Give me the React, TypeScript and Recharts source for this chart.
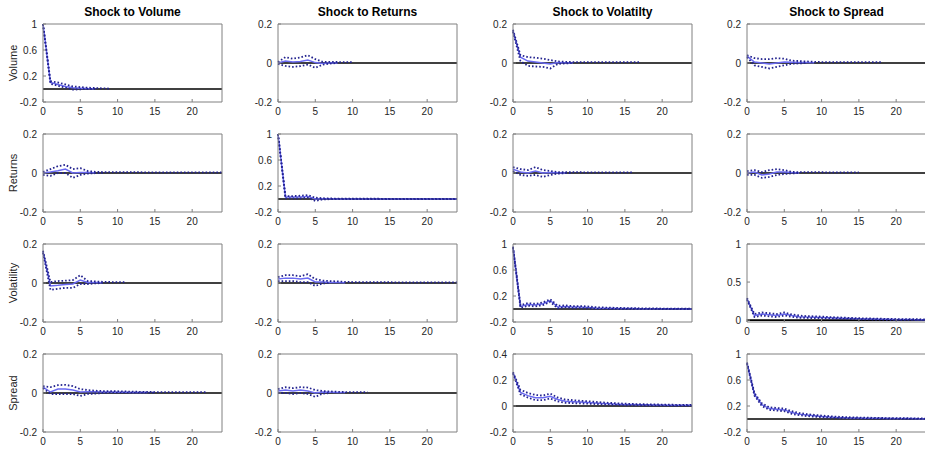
import { LineChart, Line, XAxis, YAxis, ReferenceLine } from "recharts";

const steps = [0, 1, 2, 3, 4, 5, 6, 7, 8, 9, 10, 11, 12, 13, 14, 15, 16, 17, 18, 19, 20, 21, 22, 23, 24];

const shockTitles = ["Shock to Volume", "Shock to Returns", "Shock to Volatilty", "Shock to Spread"];
const responseLabels = ["Volume", "Returns", "Volatility", "Spread"];

const xTicks = [0, 5, 10, 15, 20];
const ticksSmall = [-0.2, 0, 0.2];
const ticksUnit = [-0.2, 0.2, 0.6, 1];
const ticksHalf = [0, 0.5, 1];
const ticksWide = [-0.2, 0, 0.2, 0.4];

// response of Volume
const volVol = [1.0, 0.1, 0.07, 0.04, 0.02, 0.012, 0.006, 0.003];
const volVolHi = [1.0, 0.12, 0.1, 0.07, 0.04, 0.03, 0.02, 0.015, 0.01, 0.006];
const volVolLo = [1.0, 0.08, 0.05, 0.02, -0.01, -0.005, 0.0, 0.0];
const volRet = [0, 0.01, 0.005, 0.008, 0.015, 0.002, -0.002, 0.001, 0.0];
const volRetHi = [0.005, 0.03, 0.022, 0.028, 0.04, 0.02, 0.006, 0.006, 0.005, 0.005, 0.005];
const volRetLo = [-0.005, -0.015, -0.02, -0.016, -0.008, -0.025, -0.008, -0.003, 0.0];
const volVlt = [0.165, 0.03, 0.01, 0.005, 0.0, -0.005, 0.002, 0.001, 0.0];
const volVltHi = [0.17, 0.04, 0.03, 0.027, 0.022, 0.015, 0.008, 0.006, 0.005, 0.005, 0.004, 0.004, 0.004, 0.004, 0.004, 0.004, 0.004, 0.004];
const volVltLo = [0.16, 0.01, -0.015, -0.018, -0.02, -0.028, -0.005, -0.002, 0.0];
const volSpr = [0.035, 0.005, 0.0, -0.005, 0.0, 0.005, 0.004, 0.003, 0.002, 0.001];
const volSprHi = [0.04, 0.025, 0.02, 0.02, 0.025, 0.022, 0.012, 0.01, 0.008, 0.006, 0.005, 0.005, 0.004, 0.004, 0.004, 0.004, 0.004, 0.004, 0.004];
const volSprLo = [0.03, -0.012, -0.02, -0.028, -0.02, -0.012, -0.004, -0.002, 0.0];

// response of Returns
const retVol = [0.0, 0.005, 0.012, 0.02, 0.0, 0.003, 0.002, 0.001];
const retVolHi = [0.005, 0.02, 0.035, 0.042, 0.02, 0.025, 0.01, 0.006, 0.005, 0.004, 0.004, 0.004, 0.004, 0.004, 0.003, 0.003, 0.003, 0.003, 0.003, 0.003, 0.003, 0.003, 0.003, 0.003, 0.003];
const retVolLo = [-0.01, -0.015, 0.0, 0.0, -0.025, -0.01, -0.003, -0.001, 0.0];
const retRet = [1.0, 0.03, 0.03, 0.03, 0.04, 0.0, 0.005, 0.002, 0.001, 0.001, 0.001, 0.001, 0.001, 0.001, 0.001, 0.001, 0.001, 0.001, 0.001, 0.001, 0.001, 0.001, 0.001, 0.001, 0.001];
const retRetHi = [1.0, 0.045, 0.045, 0.05, 0.06, 0.02, 0.012, 0.008, 0.006, 0.005, 0.004, 0.004, 0.004, 0.004, 0.003, 0.003, 0.003, 0.003, 0.003, 0.003, 0.003, 0.003, 0.003, 0.003, 0.003];
const retRetLo = [1.0, 0.01, 0.01, 0.01, 0.02, -0.03, -0.005, -0.003, -0.002, -0.002, -0.001, -0.001, -0.001, -0.001, -0.001, -0.001, -0.001, -0.001, -0.001, -0.001, -0.001, -0.001, -0.001, -0.001, -0.001];
const retVlt = [0.02, 0.005, 0.0, 0.01, 0.0, 0.002, 0.001, 0.0];
const retVltHi = [0.03, 0.02, 0.015, 0.03, 0.015, 0.01, 0.005, 0.004, 0.004, 0.004, 0.003, 0.003, 0.003, 0.003, 0.003, 0.003, 0.003];
const retVltLo = [0.01, -0.01, -0.015, -0.01, -0.02, -0.01, -0.003, -0.001, 0.0];
const retSpr = [0.0, 0.005, -0.01, -0.005, 0.005, 0.005, 0.002, 0.0];
const retSprHi = [0.01, 0.015, 0.005, 0.015, 0.02, 0.015, 0.006, 0.004, 0.004, 0.004, 0.004, 0.003, 0.003, 0.003, 0.003, 0.003];
const retSprLo = [-0.01, -0.01, -0.025, -0.02, -0.01, -0.005, -0.002, 0.0];

// response of Volatility
const vltVol = [0.16, -0.015, -0.012, -0.008, -0.005, 0.015, 0.003, 0.002, 0.001];
const vltVolHi = [0.165, 0.005, 0.01, 0.012, 0.015, 0.04, 0.01, 0.008, 0.006, 0.005, 0.005, 0.004];
const vltVolLo = [0.155, -0.035, -0.03, -0.025, -0.025, -0.005, -0.005, -0.002, 0.0];
const vltRet = [0.02, 0.025, 0.025, 0.02, 0.025, 0.005, 0.005, 0.003, 0.002, 0.001];
const vltRetHi = [0.03, 0.04, 0.04, 0.035, 0.045, 0.02, 0.012, 0.01, 0.008, 0.006, 0.005, 0.005, 0.004, 0.004, 0.004, 0.004, 0.003, 0.003, 0.003, 0.003, 0.003, 0.003, 0.003, 0.003, 0.003];
const vltRetLo = [0.01, 0.01, 0.01, 0.005, 0.005, -0.015, -0.002, 0.0];
const vltVlt = [0.95, 0.04, 0.07, 0.06, 0.08, 0.13, 0.03, 0.04, 0.03, 0.03, 0.025, 0.015, 0.012, 0.01, 0.008, 0.007, 0.006, 0.005, 0.004, 0.003, 0.003, 0.002, 0.002, 0.001, 0.001];
const vltVltHi = [0.96, 0.06, 0.09, 0.08, 0.1, 0.15, 0.05, 0.055, 0.045, 0.045, 0.04, 0.028, 0.024, 0.02, 0.017, 0.015, 0.013, 0.011, 0.01, 0.008, 0.007, 0.006, 0.005, 0.004, 0.004];
const vltVltLo = [0.94, 0.02, 0.05, 0.04, 0.06, 0.11, 0.01, 0.025, 0.015, 0.015, 0.01, 0.003, 0.001, 0.0, 0.0, 0.0, 0.0, 0.0, 0.0, 0.0, 0.0, 0.0, 0.0, 0.0, 0.0];
const vltSpr = [0.28, 0.06, 0.08, 0.07, 0.06, 0.08, 0.06, 0.045, 0.04, 0.038, 0.035, 0.03, 0.027, 0.024, 0.021, 0.018, 0.016, 0.014, 0.012, 0.01, 0.009, 0.008, 0.007, 0.006, 0.005];
const vltSprHi = [0.29, 0.08, 0.1, 0.09, 0.08, 0.1, 0.075, 0.06, 0.052, 0.05, 0.046, 0.04, 0.036, 0.032, 0.028, 0.025, 0.022, 0.02, 0.018, 0.016, 0.014, 0.013, 0.012, 0.011, 0.01];
const vltSprLo = [0.27, 0.04, 0.06, 0.05, 0.04, 0.06, 0.045, 0.03, 0.028, 0.026, 0.024, 0.02, 0.018, 0.016, 0.014, 0.011, 0.01, 0.008, 0.006, 0.004, 0.004, 0.003, 0.002, 0.001, 0.0];

// response of Spread
const sprVol = [0.03, 0.005, 0.02, 0.02, 0.015, 0.005, 0.006, 0.006, 0.005, 0.005, 0.004, 0.004, 0.003, 0.003, 0.002];
const sprVolHi = [0.035, 0.03, 0.04, 0.042, 0.035, 0.02, 0.015, 0.012, 0.01, 0.01, 0.009, 0.008, 0.007, 0.006, 0.006, 0.005, 0.005, 0.005, 0.004, 0.004, 0.004, 0.004, 0.004];
const sprVolLo = [0.025, -0.005, -0.005, -0.005, -0.005, -0.015, -0.005, -0.003, 0.0, 0.002, 0.002, 0.002, 0.002, 0.002, 0.002, 0.002];
const sprRet = [0.01, 0.015, 0.01, 0.015, 0.01, 0.0, 0.005, 0.004, 0.003, 0.002];
const sprRetHi = [0.02, 0.03, 0.025, 0.03, 0.028, 0.015, 0.01, 0.008, 0.006, 0.005, 0.005, 0.004, 0.004];
const sprRetLo = [0.0, 0.0, -0.005, 0.0, -0.005, -0.02, -0.003, 0.0];
const sprVlt = [0.255, 0.105, 0.08, 0.063, 0.063, 0.075, 0.05, 0.037, 0.033, 0.03, 0.027, 0.023, 0.02, 0.017, 0.014, 0.012, 0.011, 0.01, 0.009, 0.008, 0.007, 0.006, 0.006, 0.005, 0.005];
const sprVltHi = [0.26, 0.125, 0.1, 0.085, 0.08, 0.095, 0.065, 0.05, 0.045, 0.04, 0.037, 0.032, 0.028, 0.024, 0.021, 0.018, 0.016, 0.014, 0.013, 0.012, 0.011, 0.01, 0.009, 0.009, 0.008];
const sprVltLo = [0.25, 0.09, 0.065, 0.045, 0.045, 0.058, 0.035, 0.025, 0.022, 0.02, 0.018, 0.015, 0.012, 0.01, 0.008, 0.006, 0.005, 0.004, 0.004, 0.003, 0.003, 0.002, 0.002, 0.002, 0.002];
const sprSpr = [0.86, 0.38, 0.22, 0.16, 0.15, 0.14, 0.1, 0.075, 0.06, 0.05, 0.04, 0.032, 0.025, 0.02, 0.017, 0.015, 0.013, 0.011, 0.01, 0.009, 0.008, 0.007, 0.006, 0.005, 0.005];
const sprSprHi = [0.87, 0.4, 0.24, 0.18, 0.17, 0.16, 0.12, 0.092, 0.075, 0.064, 0.053, 0.044, 0.036, 0.03, 0.026, 0.023, 0.02, 0.018, 0.016, 0.014, 0.013, 0.012, 0.011, 0.01, 0.009];
const sprSprLo = [0.85, 0.36, 0.2, 0.14, 0.13, 0.12, 0.08, 0.058, 0.045, 0.036, 0.028, 0.02, 0.014, 0.01, 0.008, 0.007, 0.006, 0.005, 0.004, 0.004, 0.003, 0.003, 0.002, 0.002, 0.002];

type Panel = {
  irf: number[];
  hi: number[];
  lo: number[];
  domain: [number, number];
  ticks: number[];
};

const small: [number, number] = [-0.2, 0.2];
const unit: [number, number] = [-0.2, 1];

const grid: Panel[][] = [
  [
    { irf: volVol, hi: volVolHi, lo: volVolLo, domain: unit, ticks: ticksUnit },
    { irf: volRet, hi: volRetHi, lo: volRetLo, domain: small, ticks: ticksSmall },
    { irf: volVlt, hi: volVltHi, lo: volVltLo, domain: small, ticks: ticksSmall },
    { irf: volSpr, hi: volSprHi, lo: volSprLo, domain: small, ticks: ticksSmall },
  ],
  [
    { irf: retVol, hi: retVolHi, lo: retVolLo, domain: small, ticks: ticksSmall },
    { irf: retRet, hi: retRetHi, lo: retRetLo, domain: unit, ticks: ticksUnit },
    { irf: retVlt, hi: retVltHi, lo: retVltLo, domain: small, ticks: ticksSmall },
    { irf: retSpr, hi: retSprHi, lo: retSprLo, domain: small, ticks: ticksSmall },
  ],
  [
    { irf: vltVol, hi: vltVolHi, lo: vltVolLo, domain: small, ticks: ticksSmall },
    { irf: vltRet, hi: vltRetHi, lo: vltRetLo, domain: small, ticks: ticksSmall },
    { irf: vltVlt, hi: vltVltHi, lo: vltVltLo, domain: unit, ticks: ticksUnit },
    { irf: vltSpr, hi: vltSprHi, lo: vltSprLo, domain: [-0.025, 1], ticks: ticksHalf },
  ],
  [
    { irf: sprVol, hi: sprVolHi, lo: sprVolLo, domain: small, ticks: ticksSmall },
    { irf: sprRet, hi: sprRetHi, lo: sprRetLo, domain: small, ticks: ticksSmall },
    { irf: sprVlt, hi: sprVltHi, lo: sprVltLo, domain: [-0.2, 0.4], ticks: ticksWide },
    { irf: sprSpr, hi: sprSprHi, lo: sprSprLo, domain: unit, ticks: ticksUnit },
  ],
];

const colLeft = [43, 278, 513, 747];
const rowTop = [24, 134, 244, 354];
const plotW = 179;
const plotH = 78;
const font = "'Liberation Sans', Arial, Helvetica, sans-serif";
const axisGray = "#808080";
const tickFont = { fontSize: 10, fill: "#262626", fontFamily: font };

function IrfPanel({ p }: { p: Panel }) {
  const data = steps.map((s, i) => ({
    step: s,
    irf: p.irf[i] ?? null,
    hi: p.hi[i] ?? null,
    lo: p.lo[i] ?? null,
  }));
  return (
    <LineChart
      width={40 + plotW + 1 + 3}
      height={3 + 1 + plotH + 20}
      data={data}
      margin={{ top: 3, right: 3, left: 0, bottom: 0 }}
    >
      <XAxis
        dataKey="step"
        type="number"
        domain={[0, 24]}
        ticks={xTicks}
        tickSize={-3}
        tickMargin={9}
        height={20}
        stroke={axisGray}
        tick={tickFont}
        interval={0}
      />
      <XAxis
        xAxisId="top"
        orientation="top"
        dataKey="step"
        type="number"
        domain={[0, 24]}
        ticks={xTicks}
        tickSize={-3}
        height={1}
        stroke={axisGray}
        tick={false}
        interval={0}
      />
      <YAxis
        type="number"
        domain={p.domain}
        ticks={p.ticks}
        tickSize={-3}
        tickMargin={9}
        width={40}
        stroke={axisGray}
        tick={tickFont}
        interval={0}
        allowDataOverflow
      />
      <YAxis
        yAxisId="right"
        orientation="right"
        type="number"
        domain={p.domain}
        ticks={p.ticks}
        tickSize={-3}
        width={1}
        stroke={axisGray}
        tick={false}
        interval={0}
        allowDataOverflow
      />
      <ReferenceLine y={0} stroke="#000" strokeWidth={1.6} />
      <Line dataKey="irf" stroke="#6a6af2" strokeWidth={1.5} dot={false} isAnimationActive={false} />
      <Line dataKey="hi" stroke="#23238f" strokeWidth={1.8} strokeDasharray="1.6 2" dot={false} isAnimationActive={false} />
      <Line dataKey="lo" stroke="#23238f" strokeWidth={1.8} strokeDasharray="1.6 2" dot={false} isAnimationActive={false} />
    </LineChart>
  );
}

export default function App() {
  return (
    <div
      style={{
        position: "absolute",
        left: 0,
        top: 0,
        width: 925,
        height: 451,
        background: "#fff",
        overflow: "hidden",
        fontFamily: font,
      }}
    >
      {shockTitles.map((t, c) => (
        <div
          key={t}
          style={{
            position: "absolute",
            left: colLeft[c],
            top: 5,
            width: plotW,
            textAlign: "center",
            fontWeight: "bold",
            fontSize: 12,
            color: "#000",
          }}
        >
          {t}
        </div>
      ))}
      {responseLabels.map((l, r) => (
        <div
          key={l}
          style={{
            position: "absolute",
            left: 13 - 40,
            top: rowTop[r] + plotH / 2 - 7,
            width: 80,
            height: 14,
            lineHeight: "14px",
            textAlign: "center",
            fontSize: 11,
            color: "#262626",
            transform: "rotate(-90deg)",
          }}
        >
          {l}
        </div>
      ))}
      {grid.map((row, r) =>
        row.map((p, c) => (
          <div
            key={`${r}-${c}`}
            style={{ position: "absolute", left: colLeft[c] - 40, top: rowTop[r] - 4 }}
          >
            <IrfPanel p={p} />
          </div>
        ))
      )}
    </div>
  );
}
